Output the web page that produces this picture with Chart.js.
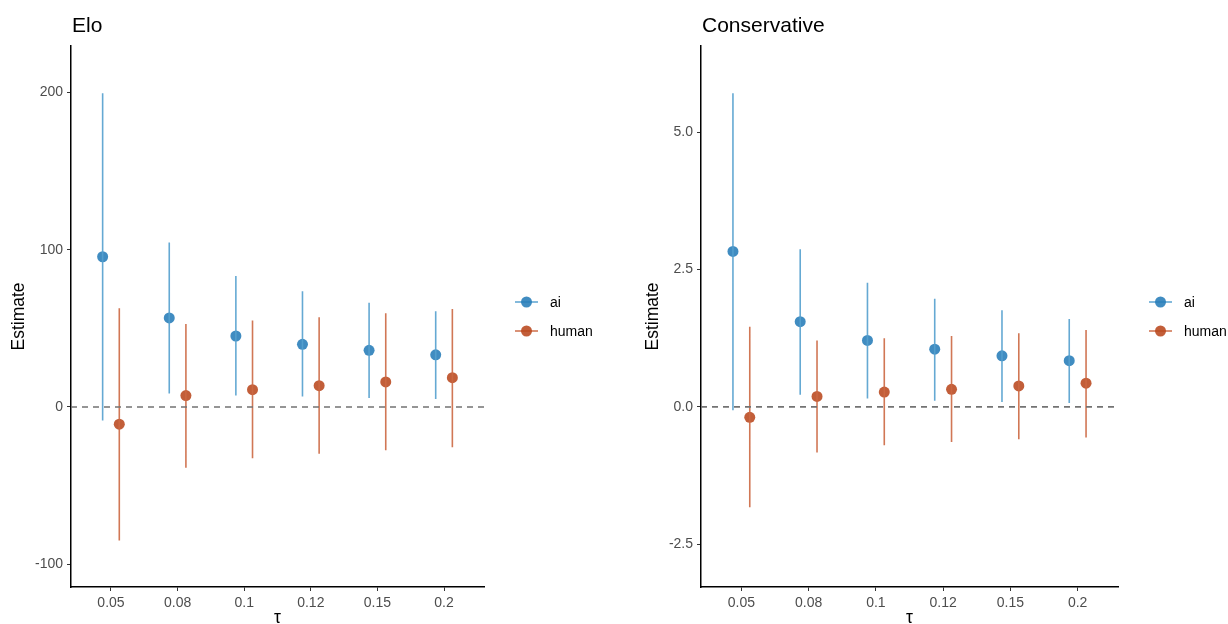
<!DOCTYPE html>
<html>
  <head>
    <title>Elo / Conservative</title>
    <style>
      body { margin: 0; background: #fff; }
      canvas { position: absolute; top: 0; }
    </style>
  </head>
  <body>
    <canvas id="eloChart" width="614" height="624" style="left:0"></canvas>
    <canvas id="consChart" width="614" height="624" style="left:614px"></canvas>

    <script src="https://cdn.jsdelivr.net/npm/chart.js@4.4.0/dist/chart.umd.min.js"></script>
    <script>
      // 類別 (tau)
      const tauLabels = ["0.05", "0.08", "0.1", "0.12", "0.15", "0.2"];
      const groups = ["ai", "human"];

      // Elo
      const eloAi = [95.5, 56.6, 45.1, 39.8, 36.0, 33.1];
      const eloAiLow = [-8.7, 8.5, 7.2, 6.6, 5.7, 5.1];
      const eloAiHigh = [199.4, 104.5, 83.3, 73.5, 66.3, 60.8];
      const eloHuman = [-11.0, 7.2, 11.0, 13.5, 15.9, 18.6];
      const eloHumanLow = [-85.0, -38.6, -32.6, -29.7, -27.5, -25.6];
      const eloHumanHigh = [62.7, 52.8, 54.9, 57.0, 59.6, 62.3];
      const eloTicks = [-100, 0, 100, 200];

      // Conservative
      const consAi = [2.83, 1.55, 1.21, 1.05, 0.93, 0.84];
      const consAiLow = [-0.06, 0.22, 0.15, 0.11, 0.09, 0.07];
      const consAiHigh = [5.71, 2.87, 2.26, 1.97, 1.76, 1.60];
      const consHuman = [-0.19, 0.19, 0.27, 0.32, 0.38, 0.43];
      const consHumanLow = [-1.83, -0.83, -0.70, -0.64, -0.59, -0.56];
      const consHumanHigh = [1.46, 1.21, 1.25, 1.29, 1.34, 1.40];
      const consTicks = [-2.5, 0, 2.5, 5.0];

      const FONT = "'Liberation Sans', Arial, sans-serif";
      const aiPoint = "rgba(38,124,184,0.88)";
      const aiLine = "rgba(84,160,206,0.9)";
      const humanPoint = "rgba(186,72,30,0.88)";
      const humanLine = "rgba(204,104,66,0.9)";
      const dodge = 0.125;

      // 誤差線: 每段 low -> high, 用 null 斷開
      function rangeData(low, high, shift) {
        const out = [];
        low.forEach((l, i) => {
          out.push({ x: i + 1 + shift, y: l });
          out.push({ x: i + 1 + shift, y: high[i] });
          out.push({ x: i + 1 + shift, y: null });
        });
        return out;
      }
      function pointData(vals, shift) {
        return vals.map((v, i) => ({ x: i + 1 + shift, y: v }));
      }

      // 標題與圖例
      const decorPlugin = {
        id: "decor",
        afterDraw(chart, args, opts) {
          const ctx = chart.ctx;
          const area = chart.chartArea;
          ctx.save();
          ctx.fillStyle = "#000";
          ctx.font = "21px " + FONT;
          ctx.textBaseline = "alphabetic";
          ctx.textAlign = "left";
          ctx.fillText(opts.title, area.left + 1, 32);

          const rows = [
            { name: groups[0], line: aiLine, point: aiPoint, y: 302 },
            { name: groups[1], line: humanLine, point: humanPoint, y: 331 },
          ];
          rows.forEach((r) => {
            const x0 = area.right + 31;
            ctx.strokeStyle = r.line;
            ctx.lineWidth = 1.6;
            ctx.beginPath();
            ctx.moveTo(x0, r.y);
            ctx.lineTo(x0 + 23, r.y);
            ctx.stroke();
            ctx.fillStyle = r.point;
            ctx.beginPath();
            ctx.arc(x0 + 11.5, r.y, 5.5, 0, Math.PI * 2);
            ctx.fill();
            ctx.fillStyle = "#000";
            ctx.font = "14px " + FONT;
            ctx.textBaseline = "middle";
            ctx.fillText(r.name, area.right + 66, r.y + 1);
          });
          ctx.restore();
        },
      };

      function createChart(id, title, d, yTicks, yMin, yMax, yWidth, yTitlePad, rightPad, decimals) {
        const ctx = document.getElementById(id).getContext("2d");
        return new Chart(ctx, {
          type: "line",
          data: {
            datasets: [
              {
                data: [{ x: 0.4, y: 0 }, { x: 6.6, y: 0 }],
                borderColor: "#737373",
                borderWidth: 1.6,
                borderDash: [6, 5],
                pointRadius: 0,
              },
              {
                data: rangeData(d.aiLow, d.aiHigh, -dodge),
                borderColor: aiLine,
                borderWidth: 1.6,
                pointRadius: 0,
                spanGaps: false,
              },
              {
                data: pointData(d.ai, -dodge),
                showLine: false,
                pointRadius: 5.5,
                pointBorderWidth: 0,
                pointBackgroundColor: aiPoint,
              },
              {
                data: rangeData(d.humanLow, d.humanHigh, dodge),
                borderColor: humanLine,
                borderWidth: 1.6,
                pointRadius: 0,
                spanGaps: false,
              },
              {
                data: pointData(d.human, dodge),
                showLine: false,
                pointRadius: 5.5,
                pointBorderWidth: 0,
                pointBackgroundColor: humanPoint,
              },
            ],
          },
          options: {
            responsive: false,
            animation: false,
            layout: { padding: { top: 46, right: rightPad, left: 0, bottom: 0 } },
            plugins: {
              legend: { display: false },
              tooltip: { enabled: false },
              decor: { title: title },
            },
            scales: {
              x: {
                type: "linear",
                min: 0.4,
                max: 6.6,
                afterBuildTicks: (s) => {
                  s.ticks = tauLabels.map((t, i) => ({ value: i + 1 }));
                },
                afterFit: (s) => { s.height = 37; },
                ticks: {
                  callback: (v) => tauLabels[Math.round(v) - 1],
                  color: "#4d4d4d",
                  font: { family: FONT, size: 14 },
                  padding: 4,
                  maxRotation: 0,
                },
                grid: { drawOnChartArea: false, drawTicks: true, tickLength: 4, color: "#333", lineWidth: 1 },
                border: { display: true, color: "#000", width: 1.5 },
                title: {
                  display: true,
                  text: "τ",
                  color: "#000",
                  font: { family: FONT, size: 17.5 },
                  padding: { top: 0, bottom: -5 },
                },
              },
              y: {
                type: "linear",
                min: yMin,
                max: yMax,
                afterBuildTicks: (s) => {
                  s.ticks = yTicks.map((v) => ({ value: v }));
                },
                afterFit: (s) => { s.width = yWidth; },
                ticks: {
                  callback: (v) => v.toFixed(decimals),
                  color: "#4d4d4d",
                  font: { family: FONT, size: 14 },
                  padding: 4,
                },
                grid: { drawOnChartArea: false, drawTicks: true, tickLength: 4, color: "#333", lineWidth: 1 },
                border: { display: true, color: "#000", width: 1.5 },
                title: {
                  display: true,
                  text: "Estimate",
                  color: "#000",
                  font: { family: FONT, size: 17.5 },
                  padding: { top: yTitlePad, bottom: 0 },
                },
              },
            },
          },
          plugins: [decorPlugin],
        });
      }

      createChart("eloChart", "Elo",
        { ai: eloAi, aiLow: eloAiLow, aiHigh: eloAiHigh, human: eloHuman, humanLow: eloHumanLow, humanHigh: eloHumanHigh },
        eloTicks, -114.5, 229.5, 71, 9, 130, 0);

      createChart("consChart", "Conservative",
        { ai: consAi, aiLow: consAiLow, aiHigh: consAiHigh, human: consHuman, humanLow: consHumanLow, humanHigh: consHumanHigh },
        consTicks, -3.28, 6.57, 87, 29, 110, 1);
    </script>
  </body>
</html>
